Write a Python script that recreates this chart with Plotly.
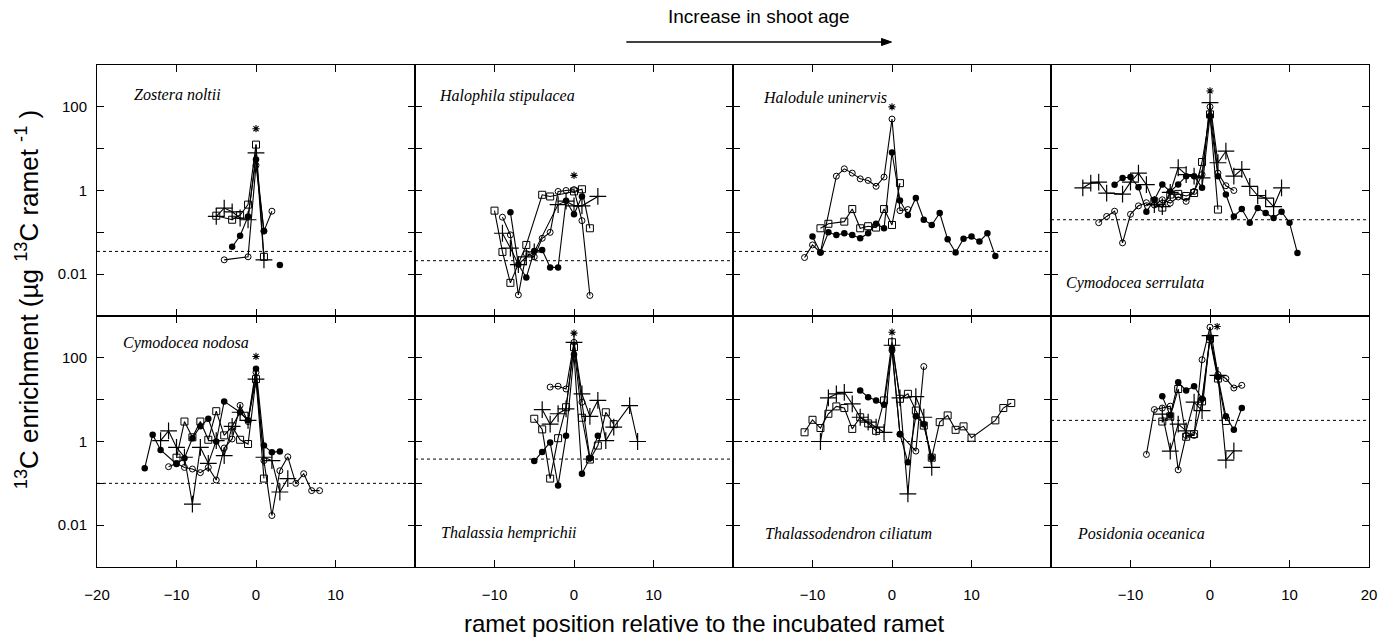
import plotly.graph_objects as go
from plotly.subplots import make_subplots

# ---------------- data (ramet position, 13C enrichment, µg C per ramet) ----------------
# Panel 1: Zostera noltii
zn_filled_x = [-3, -2, -1, 0, 1, 2, 3]
zn_filled_y = [0.045, 0.083, 0.24, 5.5, 0.107, None, 0.0165]
zn_open_x = [-4, -1, 0, 1, 2]
zn_open_y = [0.022, 0.026, 4.0, 0.107, 0.32]
zn_square_x = [-5, -3, -2, -1, 0, 1]
zn_square_y = [0.25, 0.2, 0.26, 0.46, 12.5, 0.026]
zn_cross_x = [-5, -4, -3, -2, -1, 0, 1]
zn_cross_y = [0.24, 0.38, 0.31, 0.22, 0.2, 7.9, 0.022]

# Panel 2: Halophila stipulacea
hs_filled_x = [-8, -7, -6, -5, -4, -3, -2, -1, 0, 1]
hs_filled_y = [0.3, 0.017, 0.0083, 0.036, 0.038, 0.0145, 0.0145, 0.57, 0.27, 0.72]
hs_open_x = [-9, -8, -7, -6, -5, -4, -3, -2, -1, 0, 1, 2]
hs_open_y = [0.23, 0.087, 0.0032, 0.031, 0.026, 0.072, 0.1, 0.95, 1.0, 1.05, 0.19, 0.0031]
hs_square_x = [-10, -9, -8, -6, -4, -3, 0, 1, 2]
hs_square_y = [0.33, 0.034, 0.0062, 0.05, 0.79, 0.72, 0.95, 1.07, 0.125]
hs_cross_x = [-9, -8, -7, -6, -5, -2, -1, 0, 1, 3]
hs_cross_y = [0.095, 0.042, 0.017, 0.026, 0.034, 0.46, 0.56, 0.43, 0.43, 0.72]

# Panel 3: Halodule uninervis
hu_filled_x = [-10, -9, -8, -7, -6, -5, -4, -3, -2, -1, 0, 1, 2, 3, 4, 5, 6, 7, 8, 9, 10, 11, 12, 13]
hu_filled_y = [0.079, 0.033, 0.1, 0.086, 0.095, 0.086, 0.072, 0.095, 0.16, 0.125, 8.1, 0.58,
               0.26, 0.66, 0.2, 0.15, 0.29, 0.068, 0.033, 0.07, 0.079, 0.06, 0.095, 0.027]
hu_open_x = [-11, -10, -9, -7, -6, -5, -4, -3, -2, -1, 0, 1, 2]
hu_open_y = [0.025, 0.05, 0.033, 2.2, 3.3, 2.6, 1.9, 1.74, 1.26, 2.1, 51, 0.33, 0.35]
hu_square_x = [-9, -8, -6, -5, -4, -3, -2, -1, 0, 1]
hu_square_y = [0.125, 0.16, 0.18, 0.36, 0.125, 0.14, 0.13, 0.36, 0.15, 1.5]
hu_cross_x = []
hu_cross_y = []

# Panel 4: Cymodocea serrulata
cs_filled_x = [-12, -11, -10, -9, -8, -7, -6, -5, -4, -3, -2, -1, 0, 1, 2, 3, 4, 5, 6, 7, 8, 9, 10, 11]
cs_filled_y = [1.38, 2.0, 2.1, 1.2, 0.31, 0.6, 1.4, 0.95, 1.4, 2.2, 2.2, 1.17, 60, 2.2, 0.8, 0.24,
               0.36, 0.17, 0.38, 0.29, 0.22, 0.31, 0.17, 0.032]
cs_open_x = [-14, -13, -12, -11, -10, -9, -8, -7, -6, -5, -4, -3, -2, -1, 0, 1, 2, 3]
cs_open_y = [0.17, 0.24, 0.32, 0.056, 0.27, 0.43, 0.51, 0.45, 0.6, 0.5, 0.7, 0.55, 0.95, 2.4, 100,
             2.6, 1.3, 1.0]
cs_square_x = [-7, -6, -5, -4, -3, -2, -1, 0, 1]
cs_square_y = [0.55, 0.39, 0.8, 0.83, 0.74, 0.87, 4.8, 66, 0.35]
cs_cross_x = [-16, -15, -14, -13, -11, -10, -9, -8, -7, -6, -5, -4, -3, -2, -1, 0, 1, 2, 3, 4, 5, 6, 7, 8, 9]
cs_cross_y = [1.15, 1.5, 1.58, 0.87, 0.82, 1.58, 2.6, 1.38, 0.46, 0.41, 0.9, 3.5, 2.4, 2.2, 2.0, 126,
              4.6, 8.7, 2.2, 3.2, 1.26, 0.76, 0.66, 0.41, 1.15]

# Panel 5: Cymodocea nodosa
cn_filled_x = [-14, -13, -12, -10, -9, -8, -7, -6, -5, -4, -2, -1, 0, 1, 2, 3]
cn_filled_y = [0.23, 1.45, 0.63, 0.29, 0.4, 1.2, 2.3, 3.5, 1.0, 9.1, 5.0, 3.2, 55, 0.8, 0.55, 0.58]
cn_open_x = [-11, -10, -9, -8, -7, -6, -5, -4, -3, -2, -1, 0, 1, 2, 3, 4, 5, 6, 7, 8]
cn_open_y = [0.25, 0.3, 0.24, 0.22, 0.18, 0.24, 0.12, 0.7, 1.15, 7.3, 3.0, 45, 0.35, 0.017, 0.2,
             0.43, 0.1, 0.17, 0.067, 0.067]
cn_square_x = [-10, -9, -8, -7, -6, -5, -4, -3, -2, -1, 0, 1]
cn_square_y = [0.41, 3.0, 1.26, 3.0, 1.1, 5.3, 1.4, 2.3, 1.1, 0.87, 31, 0.13]
cn_cross_x = [-12, -11, -10, -9, -8, -7, -6, -5, -4, -3, -2, -1, 0, 1, 2, 3, 4]
cn_cross_y = [1.05, 1.8, 0.72, 0.42, 0.032, 0.72, 0.3, 1.05, 0.46, 2.3, 5.0, 3.2, 31, 0.42, 0.35,
              0.062, 0.13]

# Panel 6: Thalassia hemprichii
th_filled_x = [-5, -4, -3, -2, -1, 0, 1, 2, 3]
th_filled_y = [0.34, 0.56, 0.95, 0.089, 1.38, 120, 0.17, 0.4, 1.38]
th_open_x = [-3, -2, -1, 0, 1, 2]
th_open_y = [20, 21, 18, 235, 8.7, 0.4]
th_square_x = [-5, -4, -3, -2, -1, 0, 1, 2, 3, 4, 5]
th_square_y = [3.5, 1.95, 0.13, 1.2, 6.6, 180, 3.7, 0.37, 0.8, 5.0, 2.6]
th_cross_x = [-4, -3, -2, -1, 0, 1, 2, 3, 4, 5, 7, 8]
th_cross_y = [5.8, 2.6, 4.6, 6.0, 235, 13.8, 4.0, 9.6, 1.05, 2.2, 7.2, 1.0]

# Panel 7: Thalassodendron ciliatum
tc_filled_x = [-4, -3, -2, -1, 0, 1, 2, 3, 4, 5]
tc_filled_y = [16.6, 11.5, 9.6, 7.6, 165, 1.5, 0.32, 4.0, 2.6, 0.41]
tc_open_x = [0, 1, 3, 4]
tc_open_y = [150, 1.5, 0.59, 62]
tc_square_x = [-11, -10, -9, -8, -7, -6, -5, -4, -3, -2, -1, 0, 1, 2, 3, 4, 5, 6, 7, 8, 9, 10, 13, 14, 15]
tc_square_y = [1.66, 3.3, 2.1, 4.6, 6.9, 6.3, 2.0, 3.8, 2.7, 1.8, 9.6, 236, 10.5, 13.8, 5.5, 2.4,
               0.41, 2.9, 4.2, 1.9, 2.3, 1.23, 3.2, 6.3, 8.3]
tc_cross_x = [-9, -8, -7, -6, -5, -4, -3, -2, -1, 0, 1, 2, 3, 4, 5]
tc_cross_y = [1.0, 11, 13.7, 15, 7.9, 3.8, 2.9, 2.2, 1.66, 200, 11, 0.056, 11.8, 3.8, 0.24]

# Panel 8: Posidonia oceanica
po_filled_x = [-6, -5, -4, -3, -2, -1, 0, 1, 2, 3, 4]
po_filled_y = [12, 4.2, 26, 16.6, 21, 10.5, 300, 35, 4.0, 1.9, 6.3]
po_open_x = [-8, -7, -6, -5, -4, -3, -2, -1, 0, 1, 2, 3, 4]
po_open_y = [0.49, 5.8, 6.3, 7.0, 0.21, 1.4, 1.4, 90, 540, 40, 32, 19, 22]
po_square_x = [-6, -5, -4, -3, -2, -1, 0, 1, 2]
po_square_y = [3.0, 4.0, 18, 1.3, 1.5, 9.1, 285, 32, 3.1]
po_cross_x = [-6, -5, -4, -3, -2, -1, 0, 1, 2, 3]
po_cross_y = [4.5, 0.59, 2.6, 1.8, 8.7, 5.5, 340, 38, 0.36, 0.6]

species = ["Zostera noltii", "Halophila stipulacea", "Halodule uninervis", "Cymodocea serrulata",
           "Cymodocea nodosa", "Thalassia hemprichii", "Thalassodendron ciliatum", "Posidonia oceanica"]
background_level = [0.035, 0.021, 0.035, 0.2, 0.1, 0.38, 1.0, 3.2]
star_x = [0, 0, 0, 0, 0, 0, 0, 0.9]
star_y = [30, 2.3, 100, 240, 108, 390, 410, 560]

y_major_vals = [0.01, 1, 100]
y_major_text = ["0.01", "1", "100"]
y_minor_vals = [0.1, 10]

# ---------------- figure ----------------
W, H = 1389, 637
L, R, T, B = 97, 16, 65, 70
PW, PH = W - L - R, H - T - B

def px(xp):
    return (xp - L) / PW

def py(yp):
    return (H - B - yp) / PH

panels = [
    (zn_filled_x, zn_filled_y, zn_open_x, zn_open_y, zn_square_x, zn_square_y, zn_cross_x, zn_cross_y),
    (hs_filled_x, hs_filled_y, hs_open_x, hs_open_y, hs_square_x, hs_square_y, hs_cross_x, hs_cross_y),
    (hu_filled_x, hu_filled_y, hu_open_x, hu_open_y, hu_square_x, hu_square_y, hu_cross_x, hu_cross_y),
    (cs_filled_x, cs_filled_y, cs_open_x, cs_open_y, cs_square_x, cs_square_y, cs_cross_x, cs_cross_y),
    (cn_filled_x, cn_filled_y, cn_open_x, cn_open_y, cn_square_x, cn_square_y, cn_cross_x, cn_cross_y),
    (th_filled_x, th_filled_y, th_open_x, th_open_y, th_square_x, th_square_y, th_cross_x, th_cross_y),
    (tc_filled_x, tc_filled_y, tc_open_x, tc_open_y, tc_square_x, tc_square_y, tc_cross_x, tc_cross_y),
    (po_filled_x, po_filled_y, po_open_x, po_open_y, po_square_x, po_square_y, po_cross_x, po_cross_y),
]

fig = make_subplots(rows=2, cols=4, horizontal_spacing=0, vertical_spacing=0)

markers = [
    dict(symbol="circle", size=6.5, color="black"),
    dict(symbol="circle-open", size=6, color="black", line=dict(width=1, color="black")),
    dict(symbol="square-open", size=7, color="black", line=dict(width=1, color="black")),
    dict(symbol="cross-thin-open", size=12, color="black", line=dict(width=1.2, color="black")),
]

for i, pdata in enumerate(panels):
    r, c = i // 4 + 1, i % 4 + 1
    fig.add_trace(go.Scatter(x=[-20, 20], y=[background_level[i]] * 2, mode="lines",
                             line=dict(color="black", width=1, dash="dot"), hoverinfo="skip"),
                  row=r, col=c)
    for k in range(4):
        xs, ys = pdata[2 * k], pdata[2 * k + 1]
        if not xs:
            continue
        fig.add_trace(go.Scatter(x=xs, y=ys, mode="lines+markers",
                                 line=dict(color="black", width=1.1),
                                 marker=markers[k], connectgaps=False),
                      row=r, col=c)
    # asterisk marking the incubated ramet
    fig.add_trace(go.Scatter(x=[star_x[i]], y=[star_y[i]], mode="markers",
                             marker=dict(symbol="asterisk-open", size=6, color="black",
                                         line=dict(width=1.1, color="black"))),
                  row=r, col=c)

axis_common = dict(showline=True, linecolor="black", linewidth=1, mirror="ticks", ticks="inside",
                   ticklen=7, tickwidth=1, tickcolor="black", showgrid=False, zeroline=False,
                   tickfont=dict(family="Liberation Sans, Arial", size=15, color="black"))

bottom_ticks = {
    1: [-20, -10, 0, 10],
    2: [-10, 0, 10],
    3: [-10, 0, 10],
    4: [-10, 0, 10, 20],
}
for i in range(8):
    r, c = i // 4 + 1, i % 4 + 1
    if r == 1:
        fig.update_xaxes(range=[-20, 20], tickvals=[-10, 0, 10], showticklabels=False,
                         row=r, col=c, **axis_common)
    else:
        fig.update_xaxes(range=[-20, 20], tickvals=bottom_ticks[c], showticklabels=True,
                         ticklabelstandoff=14, row=r, col=c, **axis_common)
    fig.update_yaxes(type="log", range=[-3, 3], tickvals=y_major_vals, ticktext=y_major_text,
                     minor=dict(tickvals=y_minor_vals, ticks="inside", ticklen=7, tickwidth=1,
                                tickcolor="black", showgrid=False),
                     showticklabels=(c == 1), ticklabelstandoff=6, row=r, col=c, **axis_common)

# species names
name_pos = [(132, 95), (438, 96), (763, 97), (1067, 283), (121, 343), (440, 533), (765, 533), (1078, 533)]
for name, (xx, yy) in zip(species, name_pos):
    fig.add_annotation(text=f"<i>{name}</i>", x=px(xx), y=py(yy), xref="paper", yref="paper",
                       xanchor="left", yanchor="middle", showarrow=False,
                       font=dict(family="Liberation Serif", size=16, color="black"))

# title and arrow
fig.add_annotation(text="Increase in shoot age", x=px(761), y=py(16), xref="paper", yref="paper",
                   xanchor="center", yanchor="middle", showarrow=False,
                   font=dict(family="Liberation Sans, Arial", size=19, color="black"))
fig.add_shape(type="line", xref="paper", yref="paper", x0=px(628), x1=px(886), y0=py(42), y1=py(42),
              line=dict(color="black", width=1.6))
fig.add_shape(type="path", xref="paper", yref="paper",
              path=f"M {px(884)} {py(38.5)} L {px(894)} {py(42)} L {px(884)} {py(45.5)} Z",
              fillcolor="black", line=dict(color="black", width=1))

# axis titles
fig.add_annotation(text="<sup>13</sup>C enrichment (µg <sup>13</sup>C ramet <sup>-1</sup> )",
                   x=px(27), y=py(300), xref="paper", yref="paper", textangle=-90,
                   xanchor="center", yanchor="middle", showarrow=False,
                   font=dict(family="Liberation Sans, Arial", size=26, color="black"))
fig.add_annotation(text="ramet position relative to the incubated ramet",
                   x=px(706), y=py(623), xref="paper", yref="paper",
                   xanchor="center", yanchor="middle", showarrow=False,
                   font=dict(family="Liberation Sans, Arial", size=24, color="black"))

fig.update_layout(width=W, height=H, margin=dict(l=L, r=R, t=T, b=B),
                  paper_bgcolor="white", plot_bgcolor="white", showlegend=False)

fig.write_html("out.html")
